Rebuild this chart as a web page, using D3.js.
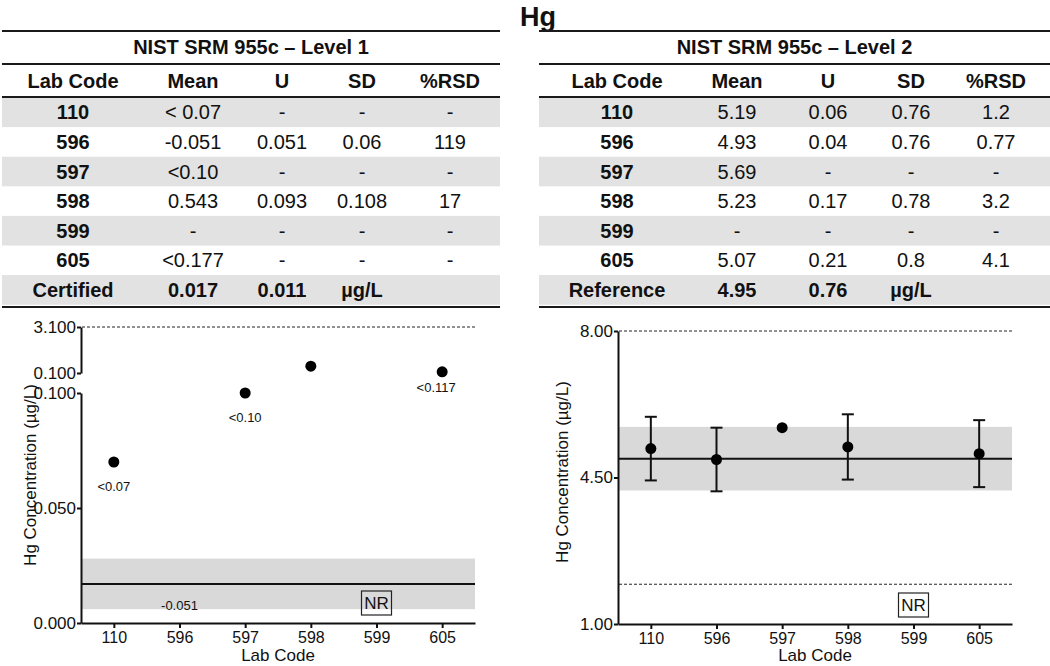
<!DOCTYPE html>
<html><head><meta charset="utf-8">
<script src="https://cdn.jsdelivr.net/npm/d3@7"></script>
<style>
body{margin:0;background:#fff}
svg{display:block}
text{font-family:Arial,'Liberation Sans',sans-serif;fill:#111}
</style>
</head><body>
<svg id="c" width="1050" height="666"></svg>
<script>
// ---------- DATA ----------
const chartTitle = "Hg";
const labCodes = ["110","596","597","598","599","605"];
const columns = ["Lab Code","Mean","U","SD","%RSD"];

const level1Title = "NIST SRM 955c – Level 1";
const level1Mean = ["< 0.07","-0.051","<0.10","0.543","-","<0.177"];
const level1U    = ["-","0.051","-","0.093","-","-"];
const level1SD   = ["-","0.06","-","0.108","-","-"];
const level1RSD  = ["-","119","-","17","-","-"];
const level1Footer = ["Certified","0.017","0.011","µg/L",""];

const level2Title = "NIST SRM 955c – Level 2";
const level2Mean = ["5.19","4.93","5.69","5.23","-","5.07"];
const level2U    = ["0.06","0.04","-","0.17","-","0.21"];
const level2SD   = ["0.76","0.76","-","0.78","-","0.8"];
const level2RSD  = ["1.2","0.77","-","3.2","-","4.1"];
const level2Footer = ["Reference","4.95","0.76","µg/L",""];

// plotted values
const level1Values = [0.07, null, 0.10, 0.543, null, 0.177];
const level1PointLabels = ["<0.07", "", "<0.10", "", "", "<0.117"];
const level1BottomLabels = ["", "-0.051", "", "", "NR", ""];
const level1Certified = 0.017;
const level1CertifiedU = 0.011;
const level1LowTicks = [0, 0.05, 0.1];
const level1HighTicks = [0.1, 3.1];
const level1Dashed = [3.1];

const level2Values = [5.19, 4.93, 5.69, 5.23, null, 5.07];
const level2SDValues = [0.76, 0.76, null, 0.78, null, 0.8];
const level2BottomLabels = ["", "", "", "", "NR", ""];
const level2Reference = 4.95;
const level2ReferenceU = 0.76;
const level2Ticks = [1, 4.5, 8];
const level2Dashed = [8, 1.95];

const yAxisTitle = "Hg Concentration (µg/L)";
const xAxisTitle = "Lab Code";

// ---------- DRAW ----------
const svg = d3.select("#c");

svg.append("text").attr("x", 538).attr("y", 25.5).attr("text-anchor", "middle")
  .style("font-size", "27px").style("font-weight", "bold").text(chartTitle);

function drawTable(x0, x1, colX, title, cols, footer) {
  const g = svg.append("g");
  const rowTop = 97.5, rowH = 29.6;
  const nRows = labCodes.length + 1;
  for (let i = 0; i < nRows; i++) {
    if (i % 2 === 0) {
      g.append("rect").attr("x", x0).attr("width", x1 - x0)
        .attr("y", rowTop + i * rowH).attr("height", rowH).attr("fill", "#e2e2e2");
    }
  }
  [31, 64, 97, 307].forEach(y => {
    g.append("line").attr("x1", x0).attr("x2", x1).attr("y1", y).attr("y2", y)
      .attr("stroke", "#1a1a1a").attr("stroke-width", 2.2);
  });
  g.append("text").attr("x", (x0 + x1) / 2).attr("y", 54).attr("text-anchor", "middle")
    .style("font-size", "20px").style("font-weight", "bold").text(title);
  columns.forEach((c, j) => {
    g.append("text").attr("x", colX[j]).attr("y", 88).attr("text-anchor", "middle")
      .style("font-size", "20px").style("font-weight", "bold").text(c);
  });
  labCodes.forEach((code, i) => {
    const y = rowTop + i * rowH + rowH / 2 + 7;
    const vals = [code].concat(cols.map(a => a[i]));
    vals.forEach((v, j) => {
      g.append("text").attr("x", colX[j]).attr("y", y).attr("text-anchor", "middle")
        .style("font-size", "20px").style("font-weight", j === 0 ? "bold" : "normal").text(v);
    });
  });
  const fy = rowTop + labCodes.length * rowH + rowH / 2 + 7;
  footer.forEach((v, j) => {
    g.append("text").attr("x", colX[j]).attr("y", fy).attr("text-anchor", "middle")
      .style("font-size", "20px").style("font-weight", "bold").text(v);
  });
}

drawTable(2, 500, [73, 193, 282, 362, 450], level1Title,
  [level1Mean, level1U, level1SD, level1RSD], level1Footer);
drawTable(539, 1050, [617, 737, 828, 911, 996], level2Title,
  [level2Mean, level2U, level2SD, level2RSD], level2Footer);

function styleAxis(sel, fs) {
  sel.attr("font-size", null).attr("font-family", null);
  sel.select(".domain").attr("stroke", "#111").attr("stroke-width", 2);
  sel.selectAll(".tick line").attr("stroke", "#111").attr("stroke-width", 2);
  sel.selectAll(".tick text").style("font-size", fs).attr("fill", "#111");
}

function nrBox(g, x, y, txt) {
  g.append("rect").attr("x", x - 15).attr("y", y - 12).attr("width", 30).attr("height", 24)
    .attr("fill", "none").attr("stroke", "#222").attr("stroke-width", 1.2);
  g.append("text").attr("x", x).attr("y", y + 6).attr("text-anchor", "middle")
    .style("font-size", "17px").text(txt);
}

// ---------- Left chart ----------
(function () {
  const g = svg.append("g");
  const x = d3.scalePoint().domain(labCodes).range([81, 475]).padding(0.5);
  const yLow = d3.scaleLinear().domain([0, 0.1]).range([623, 393]);
  const yHigh = d3.scaleLinear().domain([0.1, 3.1]).range([373, 327]);
  const y = v => v <= 0.1 ? yLow(v) : yHigh(v);

  g.append("rect").attr("x", 82).attr("width", 475 - 82)
    .attr("y", yLow(level1Certified + level1CertifiedU))
    .attr("height", yLow(level1Certified - level1CertifiedU) - yLow(level1Certified + level1CertifiedU))
    .attr("fill", "#d9d9d9");
  g.append("line").attr("x1", 82).attr("x2", 475)
    .attr("y1", yLow(level1Certified)).attr("y2", yLow(level1Certified))
    .attr("stroke", "#111").attr("stroke-width", 2);
  level1Dashed.forEach(v => {
    g.append("line").attr("x1", 82).attr("x2", 475).attr("y1", y(v)).attr("y2", y(v))
      .attr("stroke", "#222").attr("stroke-width", 1).attr("stroke-dasharray", "3,2");
  });

  g.append("g").attr("transform", "translate(81,0)")
    .call(d3.axisLeft(yLow).tickValues(level1LowTicks).tickFormat(d3.format(".3f")).tickSize(4).tickSizeOuter(0).tickPadding(1))
    .call(s => styleAxis(s, "17px"));
  g.append("g").attr("transform", "translate(81,0)")
    .call(d3.axisLeft(yHigh).tickValues(level1HighTicks).tickFormat(d3.format(".3f")).tickSize(4).tickSizeOuter(0).tickPadding(1))
    .call(s => styleAxis(s, "17px"));
  g.append("g").attr("transform", "translate(0,623)")
    .call(d3.axisBottom(x).tickSize(5).tickSizeOuter(0).tickPadding(4))
    .call(s => styleAxis(s, "16px"));

  labCodes.forEach((c, i) => {
    const v = level1Values[i];
    if (v !== null) {
      g.append("circle").attr("cx", x(c)).attr("cy", y(v)).attr("r", 5.5).attr("fill", "#000");
      if (level1PointLabels[i]) {
        const up = v > 0.1;
        g.append("text").attr("x", x(c) + (up ? -6 : 0)).attr("y", y(v) + (up ? 20 : 29))
          .attr("text-anchor", "middle").style("font-size", "13px").text(level1PointLabels[i]);
      }
    }
    const bl = level1BottomLabels[i];
    if (bl === "NR") nrBox(g, x(c), 603, bl);
    else if (bl) g.append("text").attr("x", x(c)).attr("y", 610).attr("text-anchor", "middle")
      .style("font-size", "13px").text(bl);
  });

  g.append("text").attr("transform", "translate(30,475) rotate(-90)").attr("text-anchor", "middle")
    .attr("dy", "0.35em").style("font-size", "17px").text(yAxisTitle);
  g.append("text").attr("x", 278).attr("y", 661).attr("text-anchor", "middle")
    .style("font-size", "17px").text(xAxisTitle);
})();

// ---------- Right chart ----------
(function () {
  const g = svg.append("g");
  const x = d3.scalePoint().domain(labCodes).range([618, 1012]).padding(0.5);
  const y = d3.scaleLinear().domain([1, 8]).range([624, 331]);

  g.append("rect").attr("x", 619).attr("width", 1012 - 619)
    .attr("y", y(level2Reference + level2ReferenceU))
    .attr("height", y(level2Reference - level2ReferenceU) - y(level2Reference + level2ReferenceU))
    .attr("fill", "#d9d9d9");
  g.append("line").attr("x1", 619).attr("x2", 1012)
    .attr("y1", y(level2Reference)).attr("y2", y(level2Reference))
    .attr("stroke", "#111").attr("stroke-width", 2);
  level2Dashed.forEach(v => {
    g.append("line").attr("x1", 619).attr("x2", 1012).attr("y1", y(v)).attr("y2", y(v))
      .attr("stroke", "#222").attr("stroke-width", 1).attr("stroke-dasharray", "3,2");
  });

  g.append("g").attr("transform", "translate(618,0)")
    .call(d3.axisLeft(y).tickValues(level2Ticks).tickFormat(d3.format(".2f")).tickSize(4).tickSizeOuter(0).tickPadding(1))
    .call(s => styleAxis(s, "17px"));
  g.append("g").attr("transform", "translate(0,624)")
    .call(d3.axisBottom(x).tickSize(5).tickSizeOuter(0).tickPadding(4))
    .call(s => styleAxis(s, "16px"));

  labCodes.forEach((c, i) => {
    const v = level2Values[i];
    const e = level2SDValues[i];
    if (v !== null && e !== null) {
      const cx = x(c);
      g.append("line").attr("x1", cx).attr("x2", cx).attr("y1", y(v + e)).attr("y2", y(v - e))
        .attr("stroke", "#111").attr("stroke-width", 2);
      [v + e, v - e].forEach(w => {
        g.append("line").attr("x1", cx - 6).attr("x2", cx + 6).attr("y1", y(w)).attr("y2", y(w))
          .attr("stroke", "#111").attr("stroke-width", 2);
      });
    }
    if (v !== null) {
      g.append("circle").attr("cx", x(c)).attr("cy", y(v)).attr("r", 5.5).attr("fill", "#000");
    }
    if (level2BottomLabels[i] === "NR") nrBox(g, x(c), 605, "NR");
  });

  g.append("text").attr("transform", "translate(562,472) rotate(-90)").attr("text-anchor", "middle")
    .attr("dy", "0.35em").style("font-size", "17px").text(yAxisTitle);
  g.append("text").attr("x", 815).attr("y", 661).attr("text-anchor", "middle")
    .style("font-size", "17px").text(xAxisTitle);
})();
</script>
</body></html>
